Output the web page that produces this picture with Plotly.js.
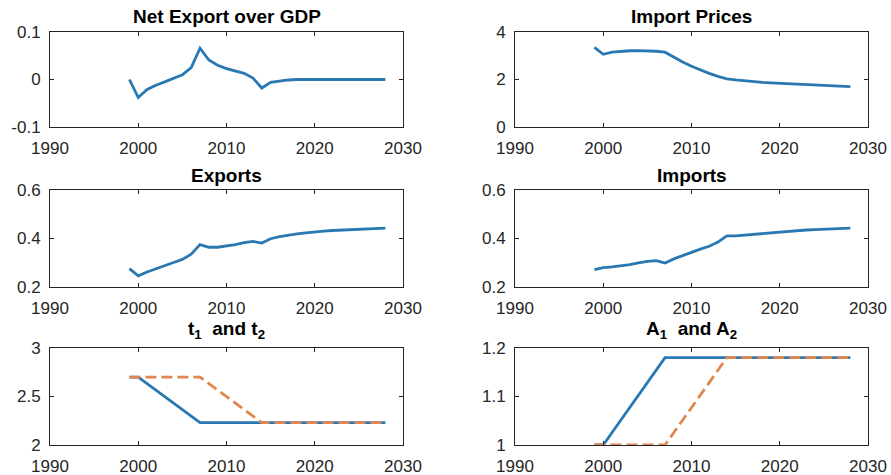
<!DOCTYPE html>
<html>
<head>
<meta charset="utf-8">
<script src="https://cdn.plot.ly/plotly-3.0.1.min.js"></script>
<style>html,body{margin:0;padding:0;background:#fff;}#chart{width:891px;height:475px;}</style>
</head>
<body>
<div id="chart"></div>
<script>
// ---- data ----
const years = [1999,2000,2001,2002,2003,2004,2005,2006,2007,2008,2009,2010,2011,2012,2013,2014,2015,2016,2017,2018,2019,2020,2021,2022,2023,2024,2025,2026,2027,2028];
const netExportGDP = [0.000,-0.038,-0.021,-0.012,-0.005,0.002,0.010,0.025,0.066,0.041,0.030,0.023,0.018,0.013,0.003,-0.018,-0.006,-0.003,-0.001,0,0,0,0,0,0,0,0,0,0,0];
const importPrices = [3.35,3.06,3.15,3.19,3.21,3.22,3.21,3.19,3.15,2.94,2.74,2.56,2.40,2.26,2.13,2.03,1.98,1.94,1.91,1.88,1.86,1.84,1.82,1.80,1.78,1.77,1.75,1.74,1.72,1.70];
const exportsS = [0.276,0.246,0.262,0.276,0.288,0.301,0.314,0.335,0.375,0.364,0.364,0.368,0.375,0.383,0.388,0.381,0.399,0.408,0.415,0.419,0.423,0.428,0.430,0.433,0.435,0.437,0.439,0.441,0.442,0.443];
const importsS = [0.272,0.280,0.283,0.287,0.292,0.299,0.306,0.309,0.299,0.316,0.331,0.343,0.356,0.368,0.385,0.411,0.411,0.414,0.418,0.422,0.426,0.429,0.431,0.433,0.435,0.437,0.439,0.441,0.442,0.443];
const t1 = [2.70,2.70,2.633,2.566,2.499,2.432,2.364,2.297,2.23,2.23,2.23,2.23,2.23,2.23,2.23,2.23,2.23,2.23,2.23,2.23,2.23,2.23,2.23,2.23,2.23,2.23,2.23,2.23,2.23,2.23];
const t2 = [2.70,2.70,2.70,2.70,2.70,2.70,2.70,2.70,2.70,2.633,2.566,2.499,2.432,2.364,2.297,2.23,2.23,2.23,2.23,2.23,2.23,2.23,2.23,2.23,2.23,2.23,2.23,2.23,2.23,2.23];
const A1 = [1.0,1.0,1.0257,1.0514,1.0771,1.1029,1.1286,1.1543,1.18,1.18,1.18,1.18,1.18,1.18,1.18,1.18,1.18,1.18,1.18,1.18,1.18,1.18,1.18,1.18,1.18,1.18,1.18,1.18,1.18,1.18];
const A2 = [1.0,1.0,1.0,1.0,1.0,1.0,1.0,1.0,1.0,1.0257,1.0514,1.0771,1.1029,1.1286,1.1543,1.18,1.18,1.18,1.18,1.18,1.18,1.18,1.18,1.18,1.18,1.18,1.18,1.18,1.18,1.18];
const titles = ["Net Export over GDP","Import Prices","Exports","Imports","t<sub>1</sub>  and t<sub>2</sub>","A<sub>1</sub>  and A<sub>2</sub>"];
const xTicks = [1990,2000,2010,2020,2030];
const yTicks = [[-0.1,0,0.1],[0,2,4],[0.2,0.4,0.6],[0.2,0.4,0.6],[2,2.5,3],[1,1.1,1.2]];
const yTickText = [["-0.1","0","0.1"],["0","2","4"],["0.2","0.4","0.6"],["0.2","0.4","0.6"],["2","2.5","3"],["1","1.1","1.2"]];

// ---- styling ----
const W = 891, H = 475;
const BLUE = "#2a78b2", ORANGE = "#e0874f", AXC = "#262626";
const FONT = "Liberation Sans, Arial, Helvetica, sans-serif";
const colsPx = [[50,403],[515,868]];
const rowsPx = [[32,127],[190,287],[348,445]];
const titleY = [17,175,330];

const blueSeries = [netExportGDP, importPrices, exportsS, importsS, t1, A1];
const traces = [];
const layout = {
  width: W, height: H, margin:{l:0,r:0,t:0,b:0},
  paper_bgcolor:"#fff", plot_bgcolor:"#fff", showlegend:false,
  font:{family:FONT, color:AXC},
  annotations: []
};
for (let i=0;i<6;i++){
  const r = Math.floor(i/2), c = i%2;
  const xa = "xaxis"+(i?i+1:""), ya = "yaxis"+(i?i+1:"");
  const xr = "x"+(i?i+1:""), yr = "y"+(i?i+1:"");
  const yt = yTicks[i];
  layout[xa] = {
    domain:[colsPx[c][0]/W, colsPx[c][1]/W], anchor: yr,
    range:[1990,2030], tickvals:xTicks, ticktext:xTicks.map(String),
    ticks:"inside", ticklen:4, tickwidth:1, tickcolor:AXC,
    showline:true, linecolor:AXC, linewidth:1, mirror:"ticks",
    showgrid:false, zeroline:false, tickfont:{size:17, color:AXC, family:FONT},
    ticklabelstandoff:6, fixedrange:true
  };
  layout[ya] = {
    domain:[1-rowsPx[r][1]/H, 1-rowsPx[r][0]/H], anchor: xr,
    range:[yt[0], yt[2]], tickvals:yt, ticktext:yTickText[i],
    ticks:"inside", ticklen:4, tickwidth:1, tickcolor:AXC,
    showline:true, linecolor:AXC, linewidth:1, mirror:"ticks",
    showgrid:false, zeroline:false, tickfont:{size:17, color:AXC, family:FONT},
    ticklabelstandoff:5, fixedrange:true
  };
  traces.push({x:years, y:blueSeries[i], xaxis:xr, yaxis:yr, type:"scatter", mode:"lines",
    line:{color:BLUE, width:2.8}, cliponaxis:false});
  layout.annotations.push({
    text:"<b>"+titles[i]+"</b>", xref:"paper", yref:"paper",
    x:(colsPx[c][0]+colsPx[c][1])/2/W, y:1-titleY[r]/H,
    xanchor:"center", yanchor:"middle", showarrow:false,
    font:{size:19, color:"#000", family:FONT}
  });
}
traces.push({x:years, y:t2, xaxis:"x5", yaxis:"y5", type:"scatter", mode:"lines",
  line:{color:ORANGE, width:2.8, dash:"11px,5px"}, cliponaxis:false});
traces.push({x:years, y:A2, xaxis:"x6", yaxis:"y6", type:"scatter", mode:"lines",
  line:{color:ORANGE, width:2.8, dash:"11px,5px"}, cliponaxis:false});

Plotly.newPlot("chart", traces, layout, {displayModeBar:false, staticPlot:true});
</script>
</body>
</html>
